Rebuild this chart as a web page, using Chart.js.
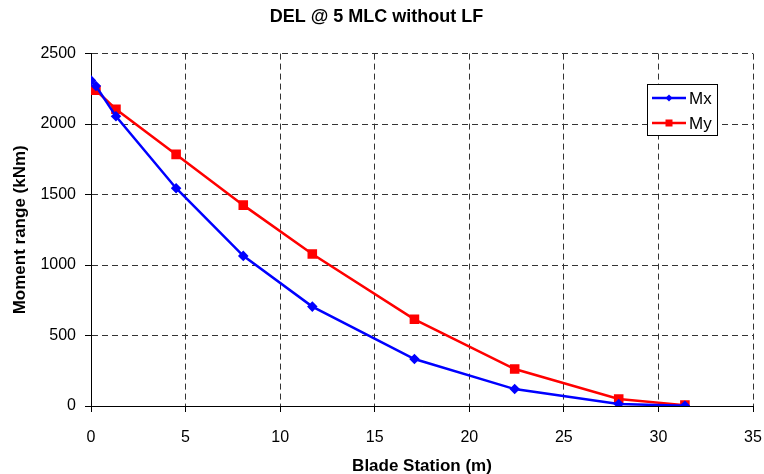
<!DOCTYPE html>
<html>
<head>
<meta charset="utf-8">
<script src="https://cdn.jsdelivr.net/npm/chart.js@4"></script>
<style>
  html, body { margin: 0; padding: 0; background: #fff; }
  #wrap { width: 764px; height: 474px; }
</style>
</head>
<body>
<div id="wrap"><canvas id="delChart" width="764" height="474"></canvas></div>
<script>
// Blade stations (m) and damage-equivalent moment ranges (kNm)
const stations = [0, 0.26, 1.32, 4.5, 8.05, 11.7, 17.1, 22.4, 27.9, 31.4];
const mxValues = [2310, 2270, 2055, 1545, 1065, 705, 333, 120, 14, 2];
const myValues = [2244, 2240, 2105, 1785, 1425, 1078, 615, 262, 50, 6];

const xTicks = [0, 5, 10, 15, 20, 25, 30, 35];
const yTicks = [0, 500, 1000, 1500, 2000, 2500];

const FONT = "'Liberation Sans', Arial, sans-serif";

function toPoints(xs, ys) {
    return xs.map((x, i) => ({ x: x, y: ys[i] }));
}

// legend box drawn inside the plot area, top right
const boxLegend = {
    id: 'boxLegend',
    afterDraw(chart) {
        const ctx = chart.ctx;
        const x0 = 647, y0 = 84, w = 70, h = 51;
        ctx.save();
        ctx.fillStyle = '#fff';
        ctx.fillRect(x0, y0, w, h);
        ctx.strokeStyle = '#000';
        ctx.lineWidth = 1;
        ctx.strokeRect(x0 + 0.5, y0 + 0.5, w, h);
        chart.data.datasets.forEach((ds, i) => {
            const cy = y0 + 14 + i * 25;
            ctx.strokeStyle = ds.borderColor;
            ctx.lineWidth = 2.5;
            ctx.beginPath();
            ctx.moveTo(x0 + 5, cy);
            ctx.lineTo(x0 + 39, cy);
            ctx.stroke();
            ctx.fillStyle = ds.borderColor;
            if (ds.pointStyle === 'rectRot') {
                ctx.beginPath();
                ctx.moveTo(x0 + 22, cy - 3.5);
                ctx.lineTo(x0 + 25.5, cy);
                ctx.lineTo(x0 + 22, cy + 3.5);
                ctx.lineTo(x0 + 18.5, cy);
                ctx.closePath();
                ctx.fill();
            } else {
                ctx.fillRect(x0 + 18.5, cy - 3.5, 7, 7);
            }
            ctx.fillStyle = '#000';
            ctx.font = '17px ' + FONT;
            ctx.textBaseline = 'middle';
            ctx.fillText(ds.label, x0 + 42, cy + 1);
        });
        ctx.restore();
    }
};

const gridOpts = {
    color: '#333',
    tickColor: '#000',
    tickLength: 6
};

new Chart(document.getElementById('delChart'), {
    type: 'line',
    data: {
        datasets: [
            {
                label: 'Mx',
                data: toPoints(stations, mxValues),
                borderColor: '#0000ff',
                backgroundColor: '#0000ff',
                borderWidth: 2.5,
                pointStyle: 'rectRot',
                pointRadius: 3.5,
                tension: 0
            },
            {
                label: 'My',
                data: toPoints(stations, myValues),
                borderColor: '#ff0000',
                backgroundColor: '#ff0000',
                borderWidth: 2.5,
                pointStyle: 'rect',
                pointRadius: 5,
                tension: 0
            }
        ]
    },
    options: {
        responsive: false,
        animation: false,
        layout: { padding: { left: 0, right: 11, top: 0, bottom: 0 } },
        plugins: {
            legend: { display: false },
            tooltip: { enabled: false },
            title: {
                display: true,
                text: 'DEL @ 5 MLC without LF',
                color: '#000',
                font: { family: FONT, size: 18, weight: 'bold' },
                padding: { top: 6, bottom: 26 }
            }
        },
        scales: {
            x: {
                type: 'linear',
                min: 0,
                max: 35,
                afterBuildTicks(scale) { scale.ticks = xTicks.map(v => ({ value: v })); },
                afterFit(scale) {
                    scale.height = 68;
                    scale.paddingLeft = 0;
                    scale.paddingRight = 0;
                },
                ticks: {
                    color: '#000',
                    font: { family: FONT, size: 16 },
                    padding: 16,
                    maxRotation: 0,
                    callback: v => String(v)
                },
                grid: gridOpts,
                border: { color: '#000', width: 1, dash: [6, 4] },
                title: {
                    display: true,
                    text: 'Blade Station (m)',
                    color: '#000',
                    font: { family: FONT, size: 17, weight: 'bold' },
                    padding: { top: 4, bottom: -3 }
                }
            },
            y: {
                min: 0,
                max: 2500,
                afterBuildTicks(scale) { scale.ticks = yTicks.map(v => ({ value: v })); },
                afterFit(scale) {
                    scale.width = 91;
                    scale.paddingTop = 0;
                    scale.paddingBottom = 0;
                },
                ticks: {
                    color: '#000',
                    font: { family: FONT, size: 16 },
                    padding: 9,
                    callback: v => String(v)
                },
                grid: gridOpts,
                border: { color: '#000', width: 1, dash: [6, 4] },
                title: {
                    display: true,
                    text: 'Moment range (kNm)',
                    color: '#000',
                    font: { family: FONT, size: 17, weight: 'bold' },
                    padding: { top: 10, bottom: 0 }
                }
            }
        }
    },
    plugins: [boxLegend]
});
</script>
</body>
</html>
